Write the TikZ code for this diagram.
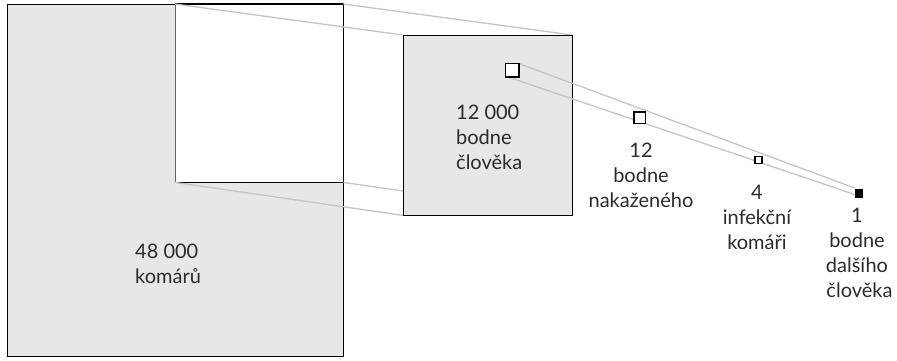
\documentclass[tikz,border=0pt]{standalone}
\usepackage{fontspec}
\setmainfont{Lato}
\definecolor{boxgray}{HTML}{E6E7E8}
\definecolor{raygray}{HTML}{C4C4C4}
\definecolor{ink}{HTML}{2B2B2B}
\begin{document}
\begin{tikzpicture}[x=1pt,y=-1pt,
  field/.style={draw=black,line width=1.4pt,fill=boxgray,inner sep=0pt,anchor=north west},
  ray/.style={draw=raygray,line width=1.3pt},
  sq/.style={inner sep=0pt,minimum size=#1,anchor=north west},
  sqface/.style={draw=black,line width=1.4pt,fill=white},
  lbl/.style={align=center,font=\fontsize{20}{25}\selectfont,text=ink,inner sep=0pt}]
\useasboundingbox (0,0) rectangle (897,360);

% large field of mosquitoes with the biting fraction cut out
\node[field,minimum width=336pt,minimum height=352pt] (big) at (7,4) {};
\node[fill=white,inner sep=0pt,anchor=north west,minimum width=168pt,minimum height=178pt] (cut) at (175,4) {};
\draw[black,line width=1.4pt] (cut.north west) -- (cut.north east) -- (cut.south east) -- (cut.south west);
\draw[black!60,line width=0.8pt] (cut.north west) -- (cut.south west);

% projection rays to the enlarged box
\node[inner sep=0pt,anchor=north west,minimum width=169pt,minimum height=180pt] (midref) at (403,35) {};
\draw[ray] (cut.north west) -- (midref.north west);
\draw[ray] (cut.north east) -- (midref.north east);
\draw[ray] (cut.south west) -- (midref.south west);
\draw[ray] (cut.south east) -- (midref.south east);

\node[field,minimum width=169pt,minimum height=180pt] (mid) at (403,35) {};

% chain of shrinking squares
\node[sq=13pt] (s1) at (505.5,63.5) {};
\node[sq=11pt] (s2) at (634,112) {};
\node[sq=6.5pt] (s3) at (755,156.5) {};
\node[sq=8.5pt] (s4) at (854.5,189) {};

\draw[ray] (s1.north east) -- ([yshift=1pt]s4.north west);
\draw[ray] ([xshift=2pt]s1.south west) -- ([yshift=-1pt]s4.west);

\draw[sqface] (s1.north west) rectangle (s1.south east);
\draw[sqface] (s2.north west) rectangle (s2.south east);
\draw[sqface,line width=1.2pt] (s3.north west) rectangle (s3.south east);
\fill[black] (s4.north west) rectangle (s4.south east);

% labels
\node[lbl,align=left,anchor=north west] (t1) at (135,244) {48 000\\komárů};
\node[lbl,align=left,anchor=north west] (t2) at (456,105) {12 000\\bodne\\člověka};
\node[lbl,anchor=north] (t3) at (641,143) {12\\bodne\\nakaženého};
\node[lbl,anchor=north] (t4) at (757,185) {4\\infekční\\komáři};
\node[lbl,anchor=north] (t5) at (857,208) {1\\bodne\\dalšího\\\hspace*{5pt}člověka};
\end{tikzpicture}
\end{document}
